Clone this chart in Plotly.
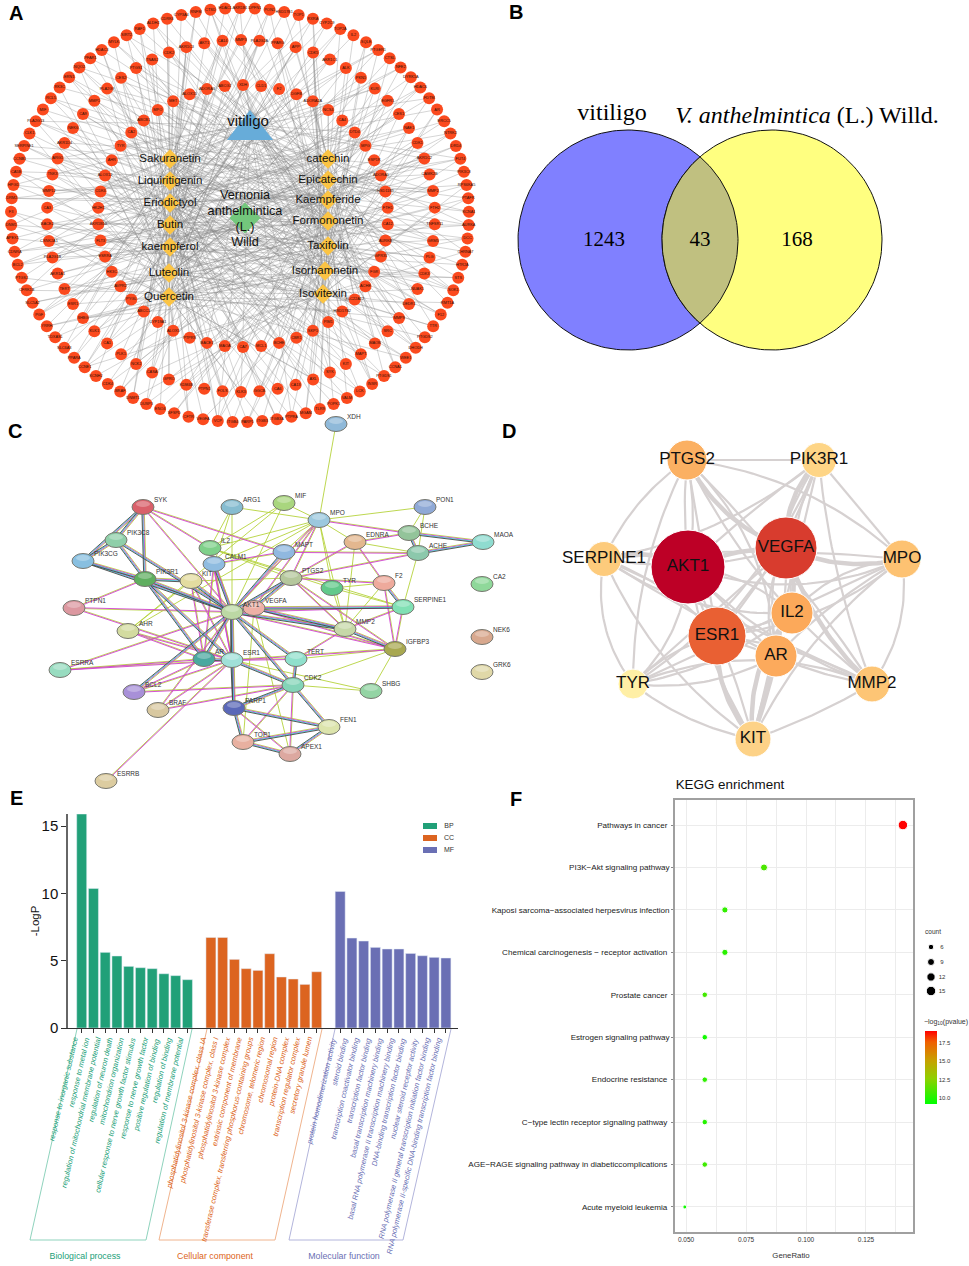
import numpy as np
import plotly.graph_objects as go

SANS = "Liberation Sans, Arial, sans-serif"
SERIF = "Liberation Serif, Times New Roman, serif"

# ---------- Panel A: compound-target network ----------
OUTER_RING = """AKR1B1 DPFN1 PON1 HSD17B1 TOP1 RXRA CYP2C9 TOP2A IL2 SQLE PTGER1 CTSL NFE2 DYRK1A HDAC6 FDTM AR ERCC5 NTRK2 DRD4 FUT4 PIK3C8
RPS6KA5 PTAFR KCNA1 AURKA DCC CHRNA7 HTR2A STS SOK1 RMT1A F12 TTR PTGDS2 DHODH WEE1 CCNA1 PTGDS1 INSR LCK VALM POPK1 TLR9 MGAM PTPRA ITGB3A
ITGB3 PARP1 ITGB4 VCP VEGFA CFTR SFSPD ENO4 DUSP3 DNMT1 BRAF CDK4 KCNH2 CCNE1 PPARA SLC6A3 TDXAS1 YRRH PGF SLC5A2 CFRK1B PTGS2 BCL2 CDNRA APEX1
DNM1 F3 DRM2 HPGD CA5B CCNB1 SERPINE1 CLK1 PLA2G13 MIF RCL5 RK3C ERN1 NQO2 PFAR1 HDAC3 MYLK SIRT2 RAF1 ALDH2 CDRK6 CYP3A4 RNFM CTSD HDAC1""".split()
MIDDLE_RING = """MMP3 PLA2G2A PPARG APP CDK5 AKR1C1 ALK PKN1 KLRI EGFR1 CES1 NAE1 CDK1 AKR1C2 CAMK2B MMP2 FTH2 TNFSR11 GRM5 PLG CDK3 NUAK1 DEDR1 MMP9 SRC MAOB
MAPT KIT SYK AXL CA13 CA6 GGCB KLK3 FOLS PTPN1 KDM4B GPRO CASA NCK2 PLK1 CA1 KLK1 SHBG ESR1 TERT AKR1A1 PLA2G1B CSNK2A1 BACE2 CA3 MMP12 TNK3 ARG1 AKR1D4
NEK6 CA9 MMP1 PLA2G9 CES2 PTGS1 TNAS2 CDK2 AKR1C3 AKT1 CA14""".split()
INNER_RING = """XDH CLD1 F2 DGFB ADORA2A NCS4 CA4 DTD4 MPG ESP1R ADORA1 HSD11B1 FTH1 CA12 AURKB GPR35 FGR ACHE SLC22A12 HSD17B2 PIM1 SKP1 CBR1 BCHE MCL1 CA7 MAOA BACE1
PTPRS ALOX5 CYP19A1 ABCC1 PYGL AVPR2 HK3C ESRRA FLT3 AKR1B10 HK2H1 CDK6 ALOX12 AHR TYR CA2 ABCB1 MPO MET ALOX15 ADORA3 ABCG2""".split()
COMPOUNDS = ["Sakuranetin", "Liquiritigenin", "Eriodictyol", "Butin", "kaempferol", "Luteolin", "Quercetin",
             "catechin", "Epicatechin", "Kaempferide", "Formononetin", "Taxifolin", "Isorhamnetin", "Isovitexin"]
COMPOUND_X = [170, 170, 170, 170, 170, 169, 169, 328, 328, 328, 328, 328, 325, 323]
COMPOUND_Y = [159, 181, 203, 225, 247, 273, 297, 159, 180, 200, 221, 246, 271, 294]
COMPOUND_LINKS = """ae bk cmg dh fl ajn bg cei dk hm afl gn bcj ek dfi hl amn cg bfk ej dil gh ckn afm
bi dej gkl chn ae fjm bdk gi acl ehn fk bjm cdg ik aeh lmn bf cgj dn ahk eil fm bcn gj dkm ei achl fn bg jk dl em acn fhi gk bl djn ce""".split()
VITILIGO_EVERY = 5

# ---------- Panel B: Venn ----------
VENN_COUNTS = ["1243", "43", "168"]
VENN_SETS = ["vitiligo", "<i>V. anthelmintica</i> (L.) Willd."]

# ---------- Panel C: protein interaction network ----------
PPI_NAMES = ["SYK","ARG1","MIF","PON1","XDH","MPO","PIK3C8","IL2","MAPT","EDNRA","BCHE","ACHE","MAOA","PIK3CG","CALM1",
             "PIK3R1","KIT","PTGS2","TYR","F2","CA2","PTPN1","AKT1","VEGFA","SERPINE1","MMP2","AHR","NEK6","IGFBP3","AR",
             "ESR1","TERT","ESRRA","GRK6","CDK2","SHBG","BCL2","BRAF","PARP1","FEN1","TOP1","APEX1","ESRRB"]
PPI_X = [143,232,284,425,336,319,116,210,284,355,409,418,483,83,214,145,191,291,332,384,482,74,232,254,403,345,128,482,395,204,232,296,60,482,293,371,134,158,234,329,243,290,106]
PPI_Y = [507,507,503,507,424,520,540,548,552,542,533,553,542,561,564,579,581,578,588,583,584,608,612,608,607,629,631,637,649,659,660,659,670,672,685,691,692,710,708,727,742,754,781]
PPI_COLORS = ["#d9606a","#86bcd0","#a9d67e","#8fa9d6","#8fb9d9","#9cc8de","#8fcfa9","#7fd08a","#90b8e0","#e3b78f","#93c49a","#8cc8ac","#8fdcd0","#88bfe0","#8fbce0",
              "#5fae5f","#e3dca0","#b5c79c","#62c98a","#eeaa9c","#8fd89a","#dc98a0","#bcd8a4","#eeb0a6","#80e0b4","#c6d8a8","#d3dba0","#d8a88e","#a8a850","#4aa8a0",
              "#a0e0d8","#90e0cc","#98dcc0","#e0d8a8","#84d4b8","#94d4a4","#a890d8","#d8c8a0","#5a68b8","#dce4ac","#e8b0a0","#dca8a0","#dccca0"]
RICH_EDGES = """SYK-PIK3C8 SYK-PIK3CG SYK-PIK3R1 PIK3C8-PIK3R1 PIK3C8-PIK3CG PIK3CG-PIK3R1 PIK3R1-AKT1 PIK3C8-AKT1 PIK3CG-AKT1 PIK3R1-KIT
KIT-AKT1 CALM1-AKT1 VEGFA-AKT1 AKT1-ESR1 AKT1-AR AR-ESR1 AKT1-TERT AKT1-CDK2 AKT1-PARP1 ESR1-PARP1 ESR1-CDK2 CDK2-TERT CDK2-PARP1
PARP1-TOP1 PARP1-FEN1 TOP1-APEX1 FEN1-APEX1 TOP1-FEN1 CDK2-FEN1 AKT1-BCL2 AKT1-MMP2 VEGFA-MMP2 VEGFA-SERPINE1 MMP2-IGFBP3 F2-SERPINE1
BCHE-ACHE BCHE-MAOA ACHE-MAOA PTGS2-VEGFA PTGS2-AKT1 MAPT-AKT1 PIK3R1-AR PIK3R1-ESR1""".split()
PAIR_EDGES = """SYK-IL2 SYK-AKT1 IL2-AKT1 SYK-MAPT ESR1-TERT PARP1-APEX1 CDK2-TOP1 CDK2-APEX1 ESR1-BCL2 AR-BCL2 BRAF-AKT1 BRAF-ESR1 BRAF-CDK2 BCL2-CDK2 ESRRA-ESR1 ESRRA-AR ESRRA-AKT1
ESRRB-ESR1 AKT1-PTPN1 PTPN1-ESR1 PTPN1-PIK3R1 AHR-ESR1 AHR-AR AKT1-SERPINE1 MMP2-SERPINE1 AKT1-IGFBP3 VEGFA-IGFBP3 SERPINE1-IGFBP3 ESR1-IGFBP3 F2-IGFBP3 F2-EDNRA EDNRA-PTGS2
MAPT-CALM1 PTGS2-MMP2 PTGS2-IGFBP3 MPO-PTGS2 MPO-VEGFA MPO-AKT1 MAPT-ACHE EDNRA-BCHE PTGS2-ACHE PTGS2-F2 TERT-MMP2 CALM1-ESR1 KIT-AR KIT-ESR1 CALM1-AR IL2-ESR1 MPO-BCHE""".split()
LONE_EDGES = """XDH-MPO PON1-MPO PON1-BCHE PON1-ACHE MIF-MPO ARG1-MPO ARG1-AKT1 ARG1-CALM1 MIF-AKT1 MIF-IL2 MPO-IL2 MPO-CALM1 MPO-MAPT MPO-TYR MPO-EDNRA MPO-MMP2 ACHE-SERPINE1
SHBG-IGFBP3 SHBG-CDK2 SHBG-ESR1 AHR-KIT AHR-MPO TYR-MMP2 IL2-PTGS2 IL2-TYR IL2-SERPINE1 TYR-F2 TYR-SERPINE1 KIT-PTGS2 MMP2-F2 MMP2-EDNRA EDNRA-ACHE PTGS2-MMP2 TERT-IGFBP3 CDK2-IGFBP3 TOP1-VEGFA APEX1-VEGFA ARG1-IL2 AHR-MIF""".split()

# ---------- Panel D: hub genes ----------
HUB_NAMES = ["PTGS2","PIK3R1","SERPINE1","AKT1","VEGFA","MPO","IL2","ESR1","AR","TYR","MMP2","KIT"]
HUB_X = [687,819,604,688,786,902,792,717,776,633,872,753]
HUB_Y = [460,460,559,567,548,559,613,636,656,684,684,739]
HUB_DIAM = [40,35,35,74,62,38,42,58,42,30,36,36]
HUB_COLORS = ["#fbb062","#fed586","#fdcb7c","#bd0026","#d83c2e","#fdc272","#fca95a","#e96033","#fcaa5c","#ffefa5","#fdc575","#fdd287"]
HUB_BEND = [0.0,0.14,-0.1,0.2,-0.16,0.07,0.0,-0.2,0.12,-0.05,0.17,-0.13,0.03,0.22]
HUB_THICK = ["AR-KIT","VEGFA-IL2","ESR1-KIT","VEGFA-MPO","AKT1-VEGFA","PTGS2-VEGFA","PIK3R1-VEGFA","IL2-KIT","VEGFA-MMP2","AKT1-SERPINE1"]

# ---------- Panel E: GO bars ----------
BP_TERMS = ["response to inorganic substance","response to metal ion","regulation of mitochondrial membrane potential","regulation of neuron death","mitochondrion organization",
            "cellular response to nerve growth factor stimulus","response to nerve growth factor","positive regulation of binding","regulation of binding","regulation of membrane potential"]
CC_TERMS = ["phosphatidylinositol 3-kinase complex, class IA","phosphatidylinositol 3-kinase complex, class I","phosphatidylinositol 3-kinase complex","extrinsic component of membrane",
            "transferase complex, transferring phosphorus-containing groups","chromosome, telomeric region","chromosomal region","protein-DNA complex","transcription regulator complex","secretory granule lumen"]
MF_TERMS = ["protein homodimerization activity","steroid binding","transcription coactivator binding","transcription factor binding","basal transcription machinery binding",
            "basal RNA polymerase II transcription machinery binding","DNA-binding transcription factor binding","nuclear steroid receptor activity",
            "RNA polymerase II general transcription initiation factor binding","RNA polymerase II-specific DNA-binding transcription factor binding"]
BP_VALUES = [15.9,10.37,5.62,5.35,4.58,4.48,4.41,4.03,3.89,3.59]
CC_VALUES = [6.73,6.73,5.1,4.41,4.28,5.52,3.79,3.64,3.24,4.18]
MF_VALUES = [10.15,6.68,6.46,5.99,5.87,5.87,5.54,5.37,5.25,5.2]
BP_POS = list(range(0,10)); CC_POS = list(range(11,21)); MF_POS = list(range(22,32))
GO_COLORS = {"BP":"#21a078","CC":"#dc6420","MF":"#6a6fb4"}
GO_GROUPS = ["Biological process","Cellular component","Molecular function"]

# ---------- Panel F: KEGG dots ----------
KEGG_TERMS = ["Pathways in cancer ","PI3K\u2212Akt signaling pathway","Kaposi sarcoma\u2212associated herpesvirus infection","Chemical carcinogenesis \u2212 receptor activation ",
              "Prostate cancer ","Estrogen signaling pathway","Endocrine resistance ","C\u2212type lectin receptor signaling pathway ","AGE\u2212RAGE signaling pathway in diabeticcomplications ","Acute myeloid leukemia "]
KEGG_RATIO = [0.1404,0.0825,0.0662,0.0662,0.0578,0.0578,0.0578,0.0578,0.0578,0.0495]
KEGG_COUNT = [15,9,7,7,6,6,6,6,6,5]
KEGG_LOGP = [19.1,11.0,10.4,10.2,10.8,9.6,10.3,10.1,10.7,9.6]
COUNT_KEYS = [6,9,12,15]
COUNT_DIAM_KEYS = [5,6,7,9,12,15]
COUNT_DIAMS = [4,5.5,6.2,7,8.3,9.5]

fig = go.Figure()
annos = []
shapes = []
BASE = dict(xaxis="x", yaxis="y", showlegend=False, hoverinfo="skip")

def text_trace(xs, ys, labels, size, family=SANS, color="#000000", pos="middle center"):
    fig.add_trace(go.Scatter(x=xs, y=ys, text=labels, mode="text", textposition=pos,
                             textfont=dict(size=size, family=family, color=color), **BASE))

# --- A
RINGS = [(OUTER_RING, 240, 215, 229, 207), (MIDDLE_RING, 241, 216, 194, 176), (INNER_RING, 243, 216, 145, 131)]
ring_xy = []
for names, cx, cy, rx, ry in RINGS:
    th = 2 * np.pi * np.arange(len(names)) / len(names)
    ring_xy.append((names, cx + rx * np.sin(th), cy - ry * np.cos(th)))
ex, ey = [], []
k = 0
for names, xs, ys in ring_xy:
    for i in range(len(names)):
        for ch in COMPOUND_LINKS[k % len(COMPOUND_LINKS)]:
            j = ord(ch) - 97
            ex += [COMPOUND_X[j], xs[i], None]
            ey += [COMPOUND_Y[j], ys[i], None]
        if k % VITILIGO_EVERY == 0:
            ex += [250, xs[i], None]
            ey += [125, ys[i], None]
        k += 1
for j in range(len(COMPOUNDS)):
    ex += [245, COMPOUND_X[j], None]
    ey += [218, COMPOUND_Y[j], None]
fig.add_trace(go.Scatter(x=ex, y=ey, mode="lines", line=dict(color="rgba(135,135,135,0.5)", width=0.7), **BASE))
for names, xs, ys in ring_xy:
    fig.add_trace(go.Scatter(x=xs, y=ys, mode="markers+text", text=names, textposition="middle center",
                             textfont=dict(size=3.9, family=SANS, color="#301008"),
                             marker=dict(size=12, color="#fb4a1e", opacity=1), **BASE))
fig.add_trace(go.Scatter(x=COMPOUND_X, y=COMPOUND_Y, mode="markers", marker=dict(symbol="diamond", size=15, color="#fbc444", opacity=1), **BASE))
text_trace(COMPOUND_X, COMPOUND_Y, COMPOUNDS, 11.5, color="#111111")
fig.add_trace(go.Scatter(x=[245], y=[218], mode="markers", marker=dict(symbol="diamond", size=24, color="#73c77c", opacity=1), **BASE))
text_trace([245, 245, 245, 245], [196, 212, 228, 243], ["Vernonia", "anthelmintica", "(L.)", "Willd"], 12.7, color="#111111")
fig.add_trace(go.Scatter(x=[250], y=[130], mode="markers", marker=dict(symbol="triangle-up", size=40, color="#67acd9", opacity=1), **BASE))
text_trace([248], [122], ["vitiligo"], 15, color="#111111")

# --- B
t = np.linspace(0, 2 * np.pi, 181)
VENN_R, VENN_Y, VENN_L, VENN_RX = 110, 240, 628, 772
fig.add_trace(go.Scatter(x=VENN_L + VENN_R * np.cos(t), y=VENN_Y + VENN_R * np.sin(t), mode="lines", fill="toself", fillcolor="#8080ff", line=dict(color="#111111", width=1), **BASE))
fig.add_trace(go.Scatter(x=VENN_RX + VENN_R * np.cos(t), y=VENN_Y + VENN_R * np.sin(t), mode="lines", fill="toself", fillcolor="#ffff80", line=dict(color="#111111", width=1), **BASE))
a = np.arccos((VENN_RX - VENN_L) / 2 / VENN_R)
a1 = np.linspace(-a, a, 60); a2 = np.linspace(np.pi - a, np.pi + a, 60)
fig.add_trace(go.Scatter(x=np.r_[VENN_L + VENN_R * np.cos(a1), VENN_RX + VENN_R * np.cos(a2)],
                         y=np.r_[VENN_Y + VENN_R * np.sin(a1), VENN_Y + VENN_R * np.sin(a2)],
                         mode="lines", fill="toself", fillcolor="#c0c080", line=dict(color="#111111", width=1), **BASE))
text_trace([604, 700, 797], [241, 241, 241], VENN_COUNTS, 21, SERIF)
text_trace([612, 807], [114, 117], VENN_SETS, 24, SERIF)

# --- C
ppi = {n: (x, y) for n, x, y in zip(PPI_NAMES, PPI_X, PPI_Y)}
STRANDS = {"#b5d23c": [], "#d040d0": [], "#40c8d8": [], "#444444": []}
def add_edges(edges, colors):
    for e in edges:
        u, v = e.split("-")
        x0, y0 = ppi[u]; x1, y1 = ppi[v]
        L = np.hypot(x1 - x0, y1 - y0)
        nx, ny = -(y1 - y0) / L, (x1 - x0) / L
        for m, c in enumerate(colors):
            off = (m - (len(colors) - 1) / 2) * 0.8
            STRANDS[c].append((x0 + nx * off, x1 + nx * off, y0 + ny * off, y1 + ny * off))
add_edges(RICH_EDGES, ["#b5d23c", "#d040d0", "#40c8d8", "#444444"])
add_edges(PAIR_EDGES, ["#b5d23c", "#d040d0"])
add_edges(LONE_EDGES, ["#b5d23c"])
for c, segs in STRANDS.items():
    sx, sy = [], []
    for s in segs:
        sx += [s[0], s[1], None]; sy += [s[2], s[3], None]
    fig.add_trace(go.Scatter(x=sx, y=sy, mode="lines", line=dict(color=c, width=0.9), **BASE))
for n, c in zip(PPI_NAMES, PPI_COLORS):
    x, y = ppi[n]
    shapes.append(dict(type="circle", xref="x", yref="y", x0=x - 11, x1=x + 11, y0=y - 7.5, y1=y + 7.5,
                       fillcolor=c, line=dict(color="#77776f", width=1), layer="above"))
    shapes.append(dict(type="circle", xref="x", yref="y", x0=x - 7, x1=x + 7, y0=y - 6, y1=y,
                       fillcolor="rgba(255,255,255,0.28)", line=dict(width=0), layer="above"))
    annos.append(dict(x=x + 9, y=y - 8, xref="x", yref="y", text=n, showarrow=False, xanchor="left", yanchor="middle",
                      font=dict(size=6.5, family=SANS, color="#333333")))

# --- D
hub = {n: (x, y) for n, x, y in zip(HUB_NAMES, HUB_X, HUB_Y)}
b = 0
for i, u in enumerate(HUB_NAMES):
    for v in HUB_NAMES[i + 1:]:
        x0, y0 = hub[u]; x1, y1 = hub[v]
        bend = HUB_BEND[b % len(HUB_BEND)]; b += 1
        mx, my = (x0 + x1) / 2 - (y1 - y0) * bend, (y0 + y1) / 2 + (x1 - x0) * bend
        s = np.linspace(0, 1, 30)
        bx = (1 - s) ** 2 * x0 + 2 * s * (1 - s) * mx + s ** 2 * x1
        by = (1 - s) ** 2 * y0 + 2 * s * (1 - s) * my + s ** 2 * y1
        thick = f"{u}-{v}" in HUB_THICK or f"{v}-{u}" in HUB_THICK
        fig.add_trace(go.Scatter(x=bx, y=by, mode="lines", line=dict(color="#d6d1d1", width=4.5 if thick else 2.2), **BASE))
fig.add_trace(go.Scatter(x=HUB_X, y=HUB_Y, mode="markers+text", text=HUB_NAMES, textposition="middle center",
                         textfont=dict(size=17, family=SANS, color="#111111"),
                         marker=dict(size=HUB_DIAM, color=HUB_COLORS, opacity=1), **BASE))

# --- E
for nm, pos, vals in (("BP", BP_POS, BP_VALUES), ("CC", CC_POS, CC_VALUES), ("MF", MF_POS, MF_VALUES)):
    fig.add_trace(go.Bar(x=pos, y=vals, name=nm, width=0.85, marker=dict(color=GO_COLORS[nm]), xaxis="x2", yaxis="y2", hoverinfo="skip", showlegend=False))
for terms, pos, c in ((BP_TERMS, BP_POS, GO_COLORS["BP"]), (CC_TERMS, CC_POS, GO_COLORS["CC"]), (MF_TERMS, MF_POS, GO_COLORS["MF"])):
    for term, p in zip(terms, pos):
        annos.append(dict(x=p, y=1034, xref="x2", yref="y", text=f"<i>{term}</i>", textangle=-77, showarrow=False,
                          xanchor="right", yanchor="top", font=dict(size=7.4, family=SANS, color=c)))
BRACKETS = [((77, 30, 146, 192), "#8fd3bd", GO_COLORS["BP"], GO_GROUPS[0], 85),
            ((207, 159, 275, 322), "#f0b48e", GO_COLORS["CC"], GO_GROUPS[1], 215),
            ((335, 289, 403, 451), "#b3b5dc", GO_COLORS["MF"], GO_GROUPS[2], 344)]
for xs, lc, tc, label, tx in BRACKETS:
    fig.add_trace(go.Scatter(x=list(xs), y=[1029, 1240, 1240, 1029], mode="lines", line=dict(color=lc, width=1), **BASE))
    text_trace([tx], [1257], [label], 8.8, SANS, tc)
GO_KEY_Y = [826, 838, 850]
for nm, yy in zip(GO_COLORS, GO_KEY_Y):
    shapes.append(dict(type="rect", xref="x", yref="y", x0=423, x1=437, y0=yy - 3, y1=yy + 3, fillcolor=GO_COLORS[nm], line=dict(width=0), layer="above"))
text_trace([449, 449, 449], GO_KEY_Y, list(GO_COLORS), 7, SANS, "#333333")

# --- F
fig.add_trace(go.Scatter(
    x=KEGG_RATIO, y=list(range(len(KEGG_TERMS))), mode="markers", xaxis="x3", yaxis="y3", showlegend=False, hoverinfo="skip",
    marker=dict(size=np.interp(KEGG_COUNT, COUNT_DIAM_KEYS, COUNT_DIAMS), opacity=1, color=KEGG_LOGP, cmin=9.2, cmax=19.1,
                colorscale=[[0, "#00ff00"], [0.35, "#90d000"], [0.6, "#c8a000"], [0.85, "#f06000"], [1, "#ff0000"]],
                colorbar=dict(x=925 / 969, xanchor="left", y=1 - 1031 / 1266, yanchor="top", lenmode="pixels", len=73,
                              thicknessmode="pixels", thickness=12, outlinewidth=0, xpad=0, ypad=0, ticks="",
                              tickvals=[10, 12.5, 15, 17.5], ticktext=["10.0", "12.5", "15.0", "17.5"],
                              tickfont=dict(size=6, family=SANS, color="#333333")))))
legend_y = [947, 962, 977, 991]
fig.add_trace(go.Scatter(x=[931] * 4, y=legend_y, mode="markers", marker=dict(size=np.interp(COUNT_KEYS, COUNT_DIAM_KEYS, COUNT_DIAMS), color="#000000", opacity=1), **BASE))
text_trace([942] * 4, legend_y, [str(c) for c in COUNT_KEYS], 6, SANS, "#333333")
text_trace([933], [932], ["count"], 6.5, SANS, "#333333")
text_trace([946], [1022], ["\u2212log<sub>10</sub>(pvalue)"], 7, SANS, "#333333")
text_trace([791], [1256], ["GeneRatio"], 7.8, SANS, "#333333")
text_trace([730], [786], ["KEGG enrichment"], 13.4, SANS, "#111111")

# --- Panel letters
for ch, x, y in (("A", 16, 13), ("B", 516, 12), ("C", 15, 431), ("D", 509, 431), ("E", 16, 798), ("F", 516, 799)):
    annos.append(dict(x=x, y=y, xref="x", yref="y", text=f"<b>{ch}</b>", showarrow=False, font=dict(size=20, family=SANS, color="#000000")))

major = [0.05, 0.075, 0.1, 0.125]
gridv = [0.0625, 0.0875, 0.1125, 0.1375]
fig.update_layout(
    width=969, height=1266, autosize=False, margin=dict(l=0, r=0, t=0, b=0, pad=0, autoexpand=False),
    paper_bgcolor="#ffffff", plot_bgcolor="rgba(0,0,0,0)", barmode="overlay", showlegend=False,
    shapes=shapes, annotations=annos,
    xaxis=dict(domain=[0, 1], range=[0, 969], visible=False, fixedrange=True),
    yaxis=dict(domain=[0, 1], range=[1266, 0], visible=False, fixedrange=True),
    xaxis2=dict(domain=[68 / 969, 458 / 969], range=[-1.166, 32.03], anchor="y2", showgrid=False, zeroline=False,
                tickvals=BP_POS + CC_POS + MF_POS, showticklabels=False, ticks="outside", ticklen=4, tickcolor="#333333",
                showline=True, linecolor="#333333", linewidth=1.2),
    yaxis2=dict(domain=[1 - 1028 / 1266, 1 - 814 / 1266], range=[0, 15.9], anchor="x2", showgrid=False, zeroline=False,
                tickvals=[0, 5, 10, 15], ticks="outside", ticklen=5, tickcolor="#333333",
                tickfont=dict(size=15, family=SANS, color="#111111"),
                showline=True, linecolor="#666666", linewidth=1.5,
                title=dict(text="-LogP", font=dict(size=11.5, family=SANS, color="#111111"), standoff=0)),
    xaxis3=dict(domain=[675 / 969, 913 / 969], range=[0.0454, 0.1446], anchor="y3", showgrid=True, gridcolor="#ececec", gridwidth=1,
                zeroline=False, tickvals=major, ticktext=[f"{v:.3f}" for v in major], ticks="",
                minor=dict(tickvals=gridv, showgrid=True, gridcolor="#ececec", gridwidth=1),
                tickfont=dict(size=6.5, family=SANS, color="#333333"),
                showline=True, mirror=True, linecolor="#a0a0a0", linewidth=1.5),
    yaxis3=dict(domain=[1 - 1232 / 1266, 1 - 800 / 1266], range=[9.59, -0.59], anchor="x3", showgrid=True, gridcolor="#ececec", gridwidth=1,
                zeroline=False, tickvals=list(range(len(KEGG_TERMS))), ticktext=KEGG_TERMS, ticks="outside", ticklen=2, tickcolor="#888888",
                tickfont=dict(size=8.1, family=SANS, color="#222222"),
                showline=True, mirror=True, linecolor="#a0a0a0", linewidth=1.5),
)
fig.write_html("out.html", post_script="document.body.style.margin='0';document.body.style.overflow='hidden';", config={"displayModeBar": False})
